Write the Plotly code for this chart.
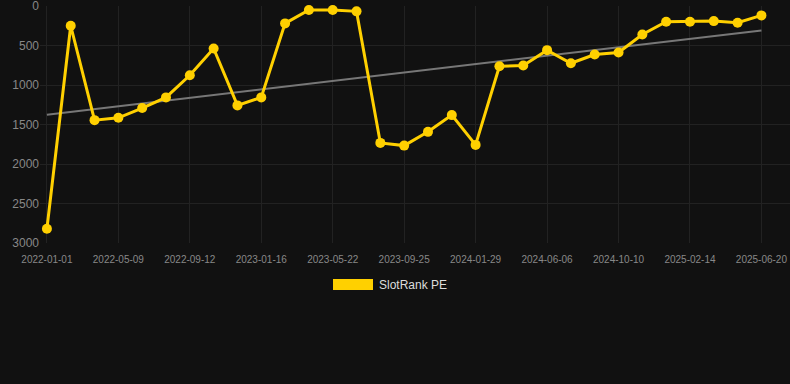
import plotly.graph_objects as go
import numpy as np

dates = [
    "2022-01-01", "2022-02-12", "2022-03-26", "2022-05-09", "2022-06-20", "2022-08-01",
    "2022-09-12", "2022-10-24", "2022-12-05", "2023-01-16", "2023-02-27", "2023-04-10",
    "2023-05-22", "2023-07-03", "2023-08-14", "2023-09-25", "2023-11-06", "2023-12-18",
    "2024-01-29", "2024-03-12", "2024-04-24", "2024-06-06", "2024-07-18", "2024-08-29",
    "2024-10-10", "2024-11-21", "2025-01-03", "2025-02-14", "2025-03-28", "2025-05-09",
    "2025-06-20",
]
rank = [
    2820, 250, 1445, 1415, 1292, 1157, 877, 538, 1258, 1157, 220, 51,
    51, 68, 1733, 1767, 1593, 1381, 1758, 763, 754, 559, 725, 614,
    589, 360, 199, 199, 191, 212, 119,
]
tick_labels = dates[::3]
y_ticks = [0, 500, 1000, 1500, 2000, 2500, 3000]
series_name = "SlotRank PE"

idx = np.arange(len(rank))
slope, intercept = np.polyfit(idx, rank, 1)
trend = slope * idx + intercept

yellow = "#FFD000"
fig = go.Figure()
fig.add_trace(go.Scatter(
    x=[dates[0], dates[-1]], y=[trend[0], trend[-1]], mode="lines",
    line=dict(color="#777777", width=2), showlegend=False, hoverinfo="skip",
))
fig.add_trace(go.Scatter(
    x=dates, y=rank, mode="lines+markers", name=series_name,
    line=dict(color=yellow, width=3),
    marker=dict(color=yellow, size=10),
    showlegend=False, cliponaxis=False,
))

L, R, T, B = 40, 0, 6, 141
pw, ph = 790 - L - R, 384 - T - B
fig.add_shape(type="rect", xref="paper", yref="paper",
              x0=(333 - L) / pw, x1=(373 - L) / pw,
              y0=-(279 - (384 - B)) / ph, y1=-(290 - (384 - B)) / ph,
              fillcolor=yellow, line=dict(width=0))
fig.add_annotation(xref="paper", yref="paper", x=(377 - L) / pw,
                   y=-(284.5 - (384 - B)) / ph, text=series_name, showarrow=False,
                   xanchor="left", yanchor="middle",
                   font=dict(size=12, color="#dddddd", family="Liberation Sans, Arial"))

fig.update_layout(
    width=790, height=384,
    paper_bgcolor="#111111", plot_bgcolor="#111111",
    margin=dict(l=L, r=R, t=T, b=B, autoexpand=False),
    font=dict(family="Liberation Sans, Arial", color="#888888"),
)
fig.update_xaxes(
    type="category", categoryorder="array", categoryarray=dates,
    range=[-0.29, 31.2], automargin=False,
    tickmode="array", tickvals=tick_labels, ticktext=tick_labels,
    tickfont=dict(size=10, color="#888888"), ticklabelstandoff=9,
    ticklabeloverflow="allow",
    showgrid=True, gridcolor="#222222", gridwidth=1,
    zeroline=False, showline=False, ticks="",
)
fig.update_yaxes(
    range=[3000, 0], tickvals=y_ticks, automargin=False,
    tickfont=dict(size=12, color="#888888"), ticklabeloverflow="allow",
    showgrid=True, gridcolor="#222222", gridwidth=1,
    zeroline=False, showline=False, ticks="",
)
fig.write_html(
    "out.html",
    config={"displayModeBar": False},
    post_script="document.body.style.margin='0';document.body.style.background='#111111';",
)
